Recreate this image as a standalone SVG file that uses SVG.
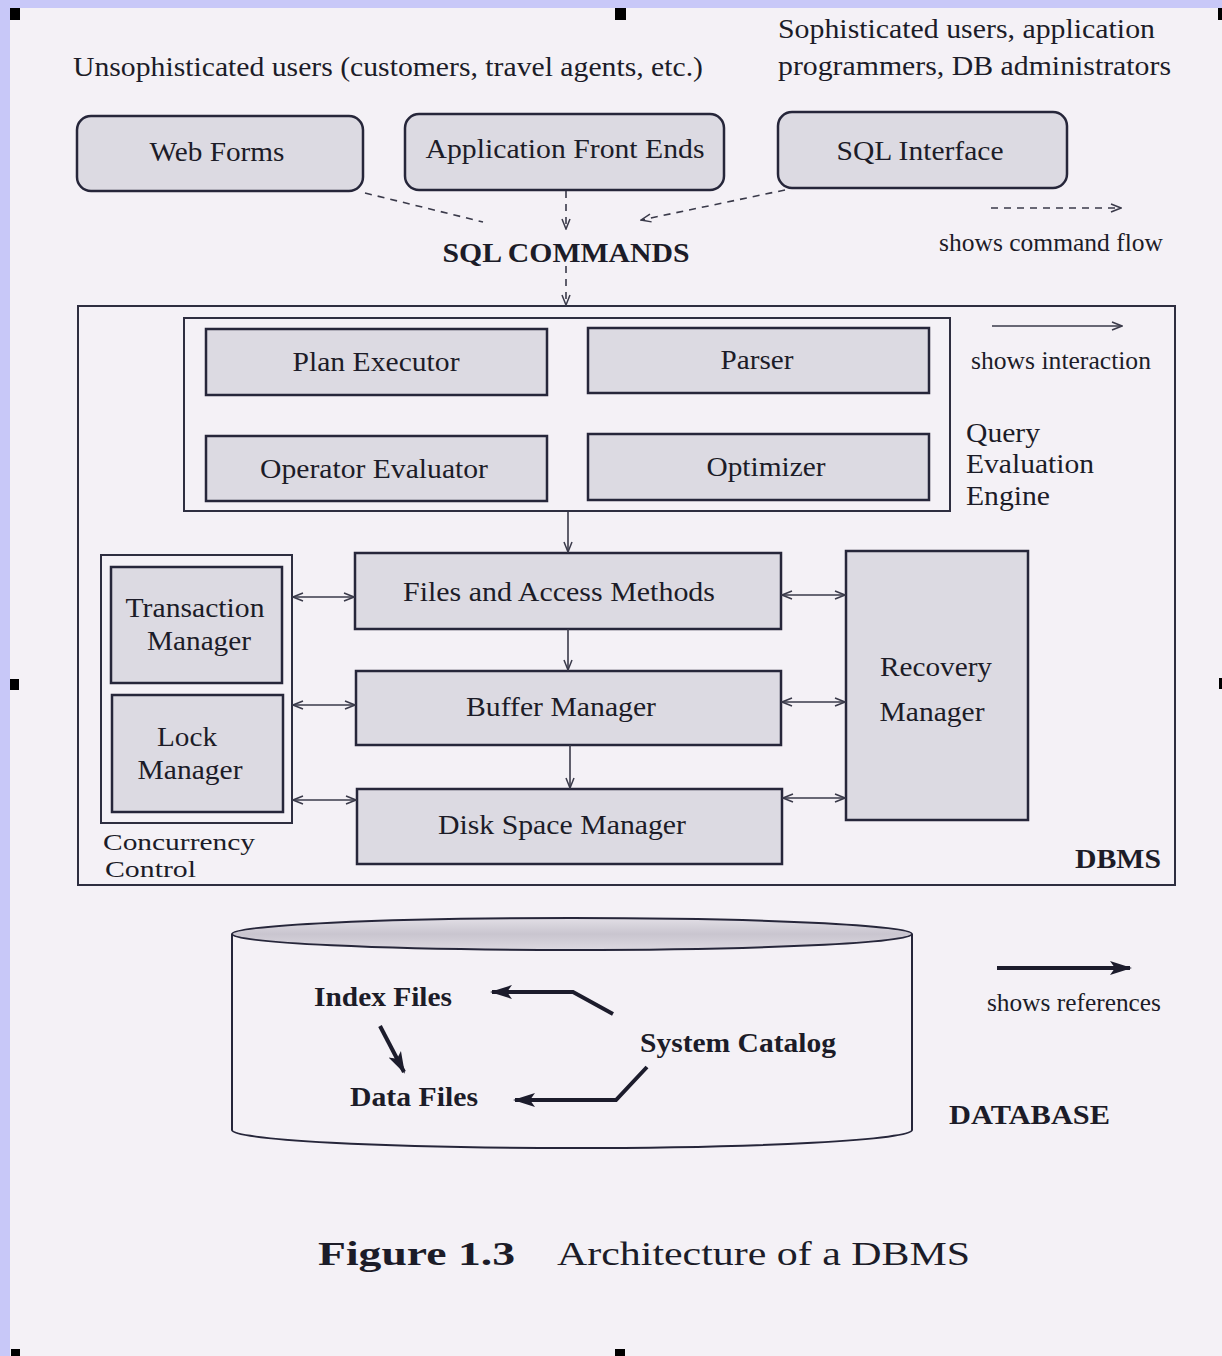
<svg xmlns="http://www.w3.org/2000/svg" width="1222" height="1356" viewBox="0 0 1222 1356">
  <style>
    .t { font-family: "Liberation Serif", "Times New Roman", serif; font-size: 28px; fill: #1c1c28; }
    .s { font-size: 25px; }
    .xs { font-size: 24px; }
    .b { font-weight: bold; }
    .m { text-anchor: middle; }
    .cap { font-family: "Liberation Serif", "DejaVu Serif", serif; font-size: 34px; fill: #1c1c28; }
    .box { fill: #dcdae2; stroke: #26263a; stroke-width: 2.5; }
    .grp { fill: none; stroke: #2e2e40; stroke-width: 2; }
    .cmd { fill: none; stroke: #3a3a4a; stroke-width: 1.6; stroke-dasharray: 7 6; marker-end: url(#open); }
    .inter { fill: none; stroke: #3a3a4a; stroke-width: 1.6; marker-end: url(#open); }
    .both { fill: none; stroke: #3a3a4a; stroke-width: 1.6; marker-start: url(#open); marker-end: url(#open); }
    .ref { fill: none; stroke: #1c1c2c; stroke-width: 4; marker-end: url(#solid); }
    .handle { fill: #000; }
  </style>
  <defs>
    <marker id="open" viewBox="0 0 12 10" refX="11" refY="5" markerWidth="12" markerHeight="10" markerUnits="userSpaceOnUse" orient="auto-start-reverse">
      <path d="M1,1 L11,5 L1,9" fill="none" stroke="#3a3a4a" stroke-width="1.5"/>
    </marker>
    <marker id="solid" viewBox="0 0 22 16" refX="20" refY="8" markerWidth="22" markerHeight="16" markerUnits="userSpaceOnUse" orient="auto">
      <path d="M0,1 L22,8 L0,15 L5,8 Z" fill="#1c1c2c"/>
    </marker>
    <linearGradient id="lid" x1="0" y1="0" x2="0" y2="1">
      <stop offset="0" stop-color="#e2dfe6"/>
      <stop offset="0.5" stop-color="#c9c5cf"/>
      <stop offset="1" stop-color="#dcd8e0"/>
    </linearGradient>
  </defs>

  <!-- page and frame -->
  <rect x="0" y="0" width="1222" height="1356" fill="#f4f1f6"/>
  <rect x="0" y="0" width="1222" height="8" fill="#c8c8f8"/>
  <rect x="0" y="0" width="10" height="1356" fill="#c8c8f8"/>

  <!-- selection handles -->
  <rect class="handle" x="10" y="8" width="10" height="12"/>
  <rect class="handle" x="615" y="8" width="11" height="12"/>
  <rect class="handle" x="1218" y="8" width="4" height="12"/>
  <rect class="handle" x="10" y="679" width="9" height="11"/>
  <rect class="handle" x="1219" y="678" width="3" height="11"/>
  <rect class="handle" x="11" y="1349" width="9" height="7"/>
  <rect class="handle" x="615" y="1349" width="10" height="7"/>

  <!-- user headings -->
  <text class="t" x="73" y="76" textLength="630" lengthAdjust="spacingAndGlyphs">Unsophisticated users (customers, travel agents, etc.)</text>
  <text class="t" x="778" y="38" textLength="377" lengthAdjust="spacingAndGlyphs">Sophisticated users, application</text>
  <text class="t" x="778" y="75" textLength="393" lengthAdjust="spacingAndGlyphs">programmers, DB administrators</text>

  <!-- client front ends -->
  <g id="web-forms">
    <rect class="box" x="77" y="116" width="286" height="75" rx="14"/>
    <text class="t m" x="217" y="161" textLength="135" lengthAdjust="spacingAndGlyphs">Web Forms</text>
  </g>
  <g id="app-front-ends">
    <rect class="box" x="405" y="114" width="319" height="76" rx="14"/>
    <text class="t m" x="565" y="158" textLength="279" lengthAdjust="spacingAndGlyphs">Application Front Ends</text>
  </g>
  <g id="sql-interface">
    <rect class="box" x="778" y="112" width="289" height="76" rx="14"/>
    <text class="t m" x="920" y="160" textLength="167" lengthAdjust="spacingAndGlyphs">SQL Interface</text>
  </g>
  <g id="sql-commands">
    <text class="t b m" x="566" y="262" textLength="247" lengthAdjust="spacingAndGlyphs">SQL COMMANDS</text>
  </g>

  <!-- DBMS container -->
  <g id="dbms">
    <rect class="grp" x="78" y="306" width="1097" height="579"/>
    <text class="t b" x="1075" y="868" textLength="86" lengthAdjust="spacingAndGlyphs">DBMS</text>
  </g>

  <!-- query evaluation engine -->
  <g id="query-evaluation-engine">
    <rect class="grp" x="184" y="318" width="766" height="193"/>
    <text class="t" x="966" y="442" textLength="74" lengthAdjust="spacingAndGlyphs">Query</text>
    <text class="t" x="966" y="473" textLength="128" lengthAdjust="spacingAndGlyphs">Evaluation</text>
    <text class="t" x="966" y="505" textLength="84" lengthAdjust="spacingAndGlyphs">Engine</text>
  </g>
  <g id="plan-executor">
    <rect class="box" x="206" y="329" width="341" height="66"/>
    <text class="t m" x="376" y="371" textLength="167" lengthAdjust="spacingAndGlyphs">Plan Executor</text>
  </g>
  <g id="parser">
    <rect class="box" x="588" y="328" width="341" height="65"/>
    <text class="t m" x="757" y="369" textLength="73" lengthAdjust="spacingAndGlyphs">Parser</text>
  </g>
  <g id="operator-evaluator">
    <rect class="box" x="206" y="436" width="341" height="65"/>
    <text class="t m" x="374" y="478" textLength="228" lengthAdjust="spacingAndGlyphs">Operator Evaluator</text>
  </g>
  <g id="optimizer">
    <rect class="box" x="588" y="434" width="341" height="66"/>
    <text class="t m" x="766" y="476" textLength="119" lengthAdjust="spacingAndGlyphs">Optimizer</text>
  </g>

  <!-- storage layers -->
  <g id="files-access-methods">
    <rect class="box" x="355" y="553" width="426" height="76"/>
    <text class="t m" x="559" y="601" textLength="312" lengthAdjust="spacingAndGlyphs">Files and Access Methods</text>
  </g>
  <g id="buffer-manager">
    <rect class="box" x="356" y="671" width="425" height="74"/>
    <text class="t m" x="561" y="716" textLength="190" lengthAdjust="spacingAndGlyphs">Buffer Manager</text>
  </g>
  <g id="disk-space-manager">
    <rect class="box" x="357" y="789" width="425" height="75"/>
    <text class="t m" x="562" y="834" textLength="248" lengthAdjust="spacingAndGlyphs">Disk Space Manager</text>
  </g>

  <!-- concurrency control -->
  <g id="concurrency-control">
    <rect class="grp" x="101" y="555" width="191" height="268"/>
    <text class="t xs" x="103" y="850" textLength="152" lengthAdjust="spacingAndGlyphs">Concurrency</text>
    <text class="t xs" x="105" y="877" textLength="91" lengthAdjust="spacingAndGlyphs">Control</text>
  </g>
  <g id="transaction-manager">
    <rect class="box" x="111" y="567" width="171" height="116"/>
    <text class="t m" x="195" y="617" textLength="139" lengthAdjust="spacingAndGlyphs">Transaction</text>
    <text class="t m" x="199" y="650" textLength="104" lengthAdjust="spacingAndGlyphs">Manager</text>
  </g>
  <g id="lock-manager">
    <rect class="box" x="112" y="695" width="171" height="117"/>
    <text class="t m" x="187" y="746" textLength="60" lengthAdjust="spacingAndGlyphs">Lock</text>
    <text class="t m" x="190" y="779" textLength="105" lengthAdjust="spacingAndGlyphs">Manager</text>
  </g>

  <!-- recovery -->
  <g id="recovery-manager">
    <rect class="box" x="846" y="551" width="182" height="269"/>
    <text class="t m" x="936" y="676" textLength="112" lengthAdjust="spacingAndGlyphs">Recovery</text>
    <text class="t m" x="932" y="721" textLength="105" lengthAdjust="spacingAndGlyphs">Manager</text>
  </g>

  <!-- database cylinder -->
  <g id="database">
    <path d="M232,934 L232,1130 A340,18 0 0 0 912,1130 L912,934" fill="#f4f1f6" stroke="#26263a" stroke-width="2"/>
    <ellipse cx="572" cy="934" rx="340" ry="16" fill="url(#lid)" stroke="#26263a" stroke-width="2"/>
    <text class="t b" x="949" y="1124" textLength="161" lengthAdjust="spacingAndGlyphs">DATABASE</text>
  </g>
  <g id="index-files">
    <text class="t b" x="314" y="1006" textLength="138" lengthAdjust="spacingAndGlyphs">Index Files</text>
  </g>
  <g id="data-files">
    <text class="t b" x="350" y="1106" textLength="128" lengthAdjust="spacingAndGlyphs">Data Files</text>
  </g>
  <g id="system-catalog">
    <text class="t b" x="640" y="1052" textLength="196" lengthAdjust="spacingAndGlyphs">System Catalog</text>
  </g>

  <!-- connectors -->
  <g id="connectors">
    <!-- command flow -->
    <path class="cmd" d="M365,193 L483,222" style="marker-end:none"/>
    <path class="cmd" d="M566,191 L566,229"/>
    <path class="cmd" d="M785,190 L641,220"/>
    <path class="cmd" d="M566,266 L566,305"/>
    <!-- interactions -->
    <path class="inter" d="M568,512 L568,552"/>
    <path class="inter" d="M568,629 L568,670"/>
    <path class="inter" d="M570,745 L570,788"/>
    <path class="both" d="M293,597 L354,597"/>
    <path class="both" d="M293,705 L355,705"/>
    <path class="both" d="M293,800 L356,800"/>
    <path class="both" d="M782,595 L845,595"/>
    <path class="both" d="M782,702 L845,702"/>
    <path class="both" d="M783,798 L845,798"/>
    <!-- references -->
    <path class="ref" d="M613,1014 L573,992 L492,992"/>
    <path class="ref" d="M647,1067 L616,1100 L515,1100"/>
    <path class="ref" d="M380,1026 L404,1072"/>
  </g>

  <!-- legend -->
  <g id="legend">
    <path class="cmd" d="M991,208 L1121,208"/>
    <text class="t s" x="939" y="251" textLength="224" lengthAdjust="spacingAndGlyphs">shows command flow</text>
    <path class="inter" d="M992,326 L1122,326"/>
    <text class="t s" x="971" y="369" textLength="180" lengthAdjust="spacingAndGlyphs">shows interaction</text>
    <path class="ref" d="M997,968 L1130,968"/>
    <text class="t s" x="987" y="1011" textLength="174" lengthAdjust="spacingAndGlyphs">shows references</text>
  </g>

  <!-- caption -->
  <text class="cap b" x="318" y="1265" textLength="197" lengthAdjust="spacingAndGlyphs">Figure 1.3</text>
  <text class="cap" x="557" y="1265" textLength="413" lengthAdjust="spacingAndGlyphs">Architecture of a DBMS</text>
</svg>
